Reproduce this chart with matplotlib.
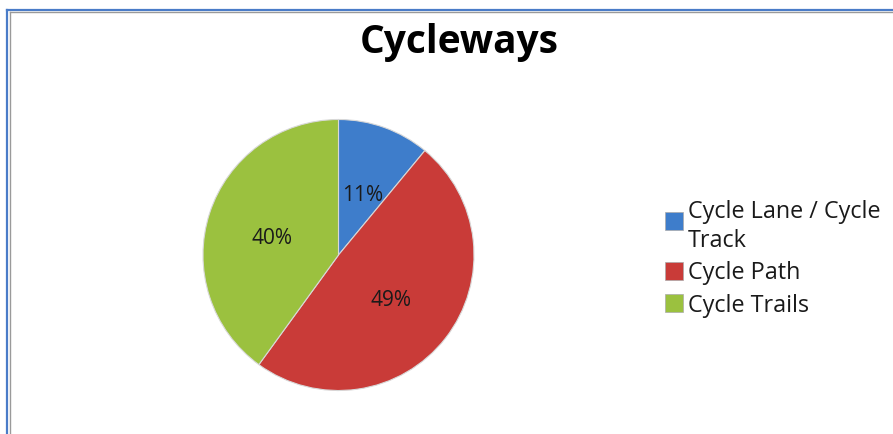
import matplotlib
matplotlib.use("Agg")
import matplotlib.pyplot as plt
from matplotlib.lines import Line2D

categories = ["Cycle Lane / Cycle\nTrack", "Cycle Path", "Cycle Trails"]
values = [11, 49, 40]
labels = ["11%", "49%", "40%"]
colors = ["#3E7DCB", "#C93B38", "#9BC13F"]

W, H = 893, 435
fig = plt.figure(figsize=(W / 100, H / 100), dpi=100)
fig.patch.set_facecolor("white")

# pie axes
cx, cy, r = 338.5, 256, 135.5
ax = fig.add_axes([(cx - r) / W, (H - cy - r) / H, 2 * r / W, 2 * r / H])
wedges, texts = ax.pie(values, colors=colors, startangle=90, counterclock=False,
                       wedgeprops=dict(linewidth=0.8, edgecolor="#d8d8d8"))
ax.set_aspect("equal")
ax.set_xlim(-1, 1)
ax.set_ylim(-1, 1)

label_pos = [(0.18, 0.45), (0.39, -0.33), (-0.49, 0.13)]
for (x, y), t in zip(label_pos, labels):
    ax.text(x, y, t, ha="center", va="center", fontsize=15,
            family="Open Sans", color="#1a1a1a")

fig.text(459 / W, 1 - 43 / H, "Cycleways", ha="center", va="center",
         fontsize=28, fontweight="bold", family="Open Sans", color="black")

# legend
leg_items = [("Cycle Lane / Cycle", 212, "Track", 241), ("Cycle Path", 273, None, None),
             ("Cycle Trails", 306, None, None)]
sq_y = [222, 272, 304]
for (l1, y1, l2, y2), c, sy in zip(leg_items, colors, sq_y):
    fig.patches.append(plt.Rectangle((665 / W, 1 - (sy + 9) / H), 18 / W, 18 / H,
                                     transform=fig.transFigure, facecolor=c,
                                     edgecolor="#aaaaaa", linewidth=0.5))
    fig.text(688 / W, 1 - y1 / H, l1, ha="left", va="center", fontsize=16.8,
             family="Open Sans", color="#1a1a1a")
    if l2:
        fig.text(688 / W, 1 - y2 / H, l2, ha="left", va="center", fontsize=16.8,
                 family="Open Sans", color="#1a1a1a")

# border (top and left)
def px_line(x0, y0, x1, y1, color, lw):
    fig.add_artist(Line2D([x0 / W, x1 / W], [1 - y0 / H, 1 - y1 / H],
                          transform=fig.transFigure, color=color, linewidth=lw))

px_line(7, 10.5, W, 10.5, "#4A7CC8", 1.6)
px_line(7, 10.5, 7, H, "#4A7CC8", 1.6)
px_line(10, 13, W, 13, "#9a9a9a", 1.0)
px_line(10, 13, 10, H, "#9a9a9a", 1.0)

fig.savefig("out.png", dpi=100)
